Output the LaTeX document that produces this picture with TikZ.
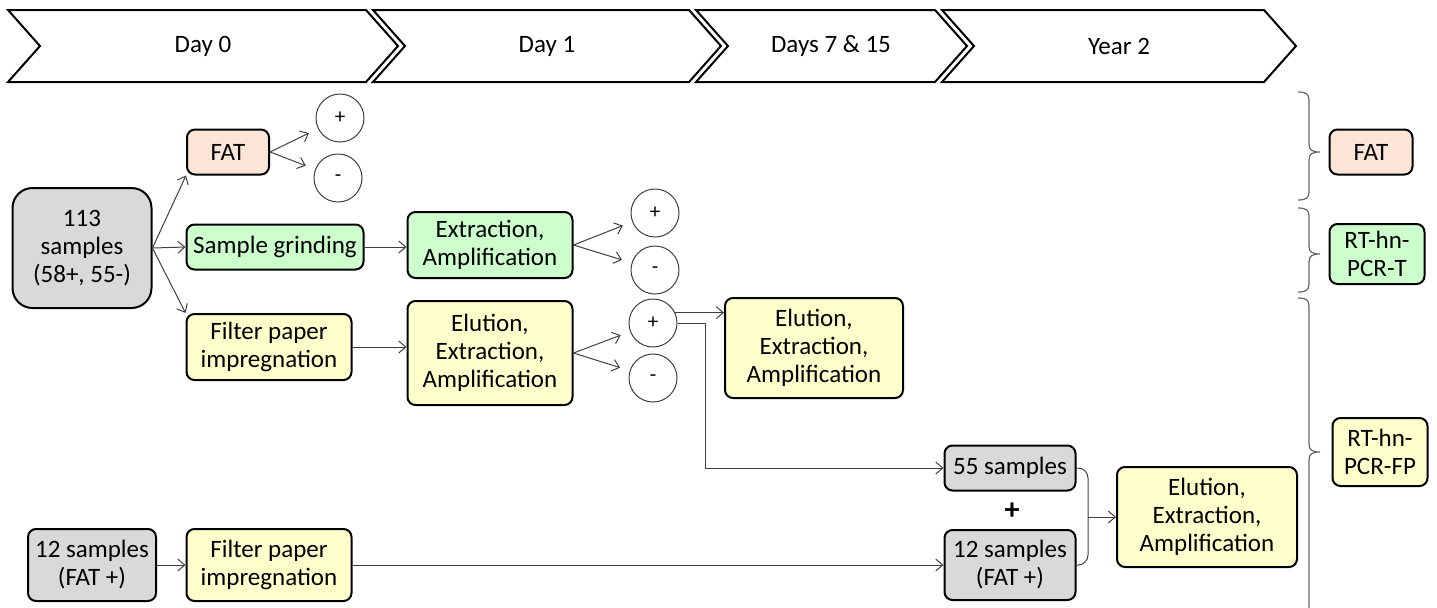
\documentclass[tikz,border=0pt]{standalone}
\usepackage{fontspec}
\setmainfont{Carlito}
\usetikzlibrary{arrows.meta,calc}
\definecolor{boxgray}{HTML}{D9D9D9}
\definecolor{boxpeach}{HTML}{FBE5D6}
\definecolor{boxgreen}{HTML}{CCFFCC}
\definecolor{boxyellow}{HTML}{FFFFCC}
\definecolor{lnc}{HTML}{404040}
\begin{document}
\begin{tikzpicture}[x=0.5pt,y=-0.5pt,
  box/.style={draw=black, line width=1pt, rounded corners=4pt, align=center, inner sep=0pt, font=\fontsize{12.5}{14}\selectfont},
  graybox/.style={box, fill=boxgray},
  peachbox/.style={box, fill=boxpeach},
  greenbox/.style={box, fill=boxgreen},
  yellowbox/.style={box, fill=boxyellow},
  circ/.style={circle, draw=lnc, line width=0.5pt, minimum size=24pt, inner sep=0pt, font=\fontsize{10.5}{10.5}\selectfont},
  arr/.style={draw=lnc, line width=0.5pt, -{Straight Barb[length=3.5pt,width=6pt]}},
  conn/.style={draw=lnc, line width=0.5pt},
  chev/.style={draw=black, line width=1pt, line join=miter},
  brc/.style={draw=black!60, line width=0.6pt},
  lbl/.style={font=\fontsize{12.5}{14}\selectfont}
]
\useasboundingbox (0,0) rectangle (1437,607);

% header chevrons
\draw[chev] (8,10) -- (366,10) -- (398,46) -- (366,82) -- (8,82) -- (40,46) -- cycle;
\draw[chev] (373,10) -- (689,10) -- (721,46) -- (689,82) -- (373,82) -- (405,46) -- cycle;
\draw[chev] (696,10) -- (935,10) -- (967,46) -- (935,82) -- (696,82) -- (728,46) -- cycle;
\draw[chev] (942,10) -- (1264,10) -- (1296,46) -- (1264,82) -- (942,82) -- (974,46) -- cycle;
\node[lbl] (h0) at (203,46) {Day 0};
\node[lbl] (h1) at (547,46) {Day 1};
\node[lbl] (h2) at (831,46) {Days 7 \& 15};
\node[lbl] (h3) at (1119,46) {Year 2};

% nodes
\node[graybox, rounded corners=10pt, minimum width=69.5pt, minimum height=60pt] (s113) at (82,248) {113\\samples\\(58+, 55-)};
\node[peachbox, minimum width=41pt, minimum height=22.5pt] (fat) at (228,152) {FAT};
\node[circ] (cp1) at (340,118) {+};
\node[circ] (cm1) at (338,178) {-};
\node[greenbox, minimum width=88.5pt, minimum height=22.5pt] (grind) at (275,247) {Sample grinding};
\node[yellowbox, minimum width=82.5pt, minimum height=33pt] (fp1) at (269,347) {Filter paper\\impregnation};
\node[greenbox, minimum width=82.5pt, minimum height=33pt] (ext) at (490,245) {Extraction,\\Amplification};
\node[circ] (cp2) at (655,213) {+};
\node[circ] (cm2) at (655,270) {-};
\node[yellowbox, minimum width=82.5pt, minimum height=52pt] (elu1) at (490,353) {Elution,\\Extraction,\\Amplification};
\node[circ] (cp3) at (653,323) {+};
\node[circ] (cm3) at (653,378) {-};
\node[yellowbox, minimum width=89pt, minimum height=50pt] (elu2) at (814,348) {Elution,\\Extraction,\\Amplification};
\node[graybox, minimum width=65.5pt, minimum height=22.5pt] (s55) at (1010,468) {55 samples};
\node[font=\fontsize{15}{15}\bfseries\selectfont] (plus) at (1012,511) {+};
\node[graybox, minimum width=65.5pt, minimum height=35pt] (s12b) at (1010,565) {12 samples\\(FAT +)};
\node[yellowbox, minimum width=90pt, minimum height=50pt] (elu3) at (1207,517) {Elution,\\Extraction,\\Amplification};
\node[graybox, minimum width=64pt, minimum height=36pt] (s12a) at (92,565) {12 samples\\(FAT +)};
\node[yellowbox, minimum width=82.5pt, minimum height=36pt] (fp2) at (269,565) {Filter paper\\impregnation};
\node[peachbox, minimum width=41.5pt, minimum height=22.5pt] (fatR) at (1371,152) {FAT};
\node[greenbox, minimum width=47.5pt, minimum height=30pt] (rtT) at (1377,254) {RT-hn-\\PCR-T};
\node[yellowbox, minimum width=47.5pt, minimum height=34pt] (rtFP) at (1380,452) {RT-hn-\\PCR-FP};

% connectors
\draw[arr] (s113.east) -- (fat.south west);
\draw[arr] (s113.east) -- (grind.west);
\draw[arr] (s113.east) -- (fp1.north west);
\draw[arr, shorten >=5pt] (fat.east) -- (cp1);
\draw[arr, shorten >=5pt] (fat.east) -- (cm1);
\draw[arr] (grind.east) -- (grind.east -| ext.west);
\draw[arr, shorten >=5pt] (ext.east) -- (cp2);
\draw[arr, shorten >=5pt] (ext.east) -- (cm2);
\draw[arr] (fp1.east) -- (fp1.east -| elu1.west);
\draw[arr, shorten >=5pt] (elu1.east) -- (cp3);
\draw[arr, shorten >=5pt] (elu1.east) -- (cm3);
\draw[arr] (cp3.25) -- (cp3.25 -| elu2.west);
\draw[arr] (cp3.east) -- ++(28,0) |- (s55.west);
\draw[arr] (s12a.east) -- (fp2.west);
\draw[arr] (fp2.east) -- (s12b.west);
\coordinate (j) at (1088,517);
\draw[conn, rounded corners=5pt] (s55.east) -| (j);
\draw[conn, rounded corners=5pt] (s12b.east) -| (j);
\draw[arr] (j) -- (j -| elu3.west);

% braces
\draw[brc] (1298,92) .. controls (1306,92) and (1309,94) .. (1309,100) -- (1309,144) .. controls (1309,150) and (1312,152) .. (1320,152) .. controls (1312,152) and (1309,154) .. (1309,160) -- (1309,192) .. controls (1309,198) and (1306,200) .. (1298,200);
\draw[brc] (1298,208) .. controls (1306,208) and (1309,210) .. (1309,216) -- (1309,246) .. controls (1309,252) and (1312,254) .. (1320,254) .. controls (1312,254) and (1309,256) .. (1309,262) -- (1309,284) .. controls (1309,290) and (1306,292) .. (1298,292);
\draw[brc] (1298,298) .. controls (1306,298) and (1309,300) .. (1309,306) -- (1309,444) .. controls (1309,450) and (1312,452) .. (1320,452) .. controls (1312,452) and (1309,454) .. (1309,460) -- (1309,612);
\end{tikzpicture}
\end{document}
